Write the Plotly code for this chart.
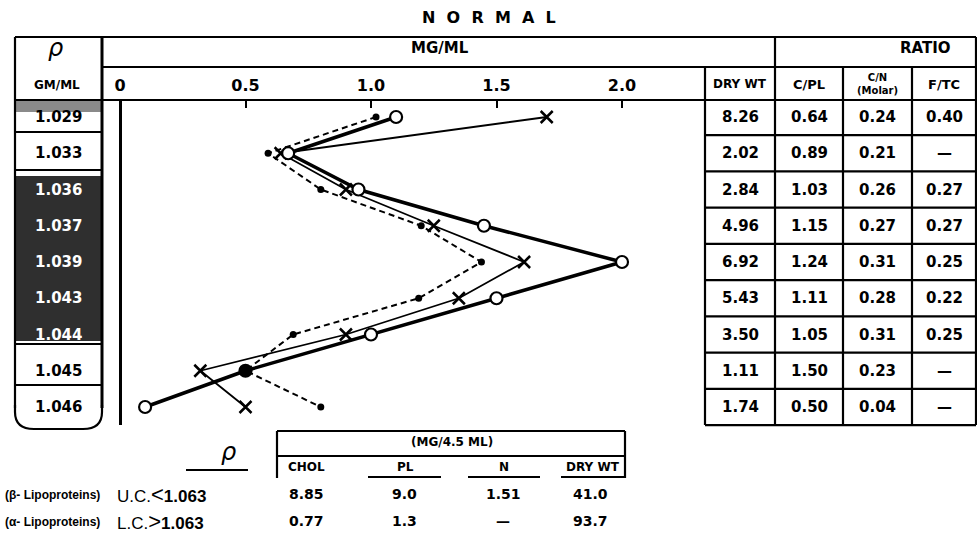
import plotly.graph_objects as go

# ---------------- data ----------------
densities = ["1.029", "1.033", "1.036", "1.037", "1.039", "1.043", "1.044", "1.045", "1.046"]
circle_vals = [1.10, 0.67, 0.95, 1.45, 2.00, 1.50, 1.00, 0.50, 0.10]   # open circles, heavy line
cross_vals = [1.70, 0.64, 0.90, 1.25, 1.61, 1.35, 0.90, 0.32, 0.50]    # crosses, thin line
dot_vals = [1.02, 0.59, 0.80, 1.20, 1.44, 1.19, 0.69, 0.50, 0.80]      # dots, dashed line
dry_wt = ["8.26", "2.02", "2.84", "4.96", "6.92", "5.43", "3.50", "1.11", "1.74"]
c_pl = ["0.64", "0.89", "1.03", "1.15", "1.24", "1.11", "1.05", "1.50", "0.50"]
c_n = ["0.24", "0.21", "0.26", "0.27", "0.31", "0.28", "0.31", "0.23", "0.04"]
f_tc = ["0.40", "—", "0.27", "0.27", "0.25", "0.22", "0.25", "—", "—"]
dark_rows = ["1.036", "1.037", "1.039", "1.043", "1.044"]
x_tickvals = [0, 0.5, 1.0, 1.5, 2.0]
x_ticktext = ["0", "0.5", "1.0", "1.5", "2.0"]
bottom_cols = ["CHOL", "PL", "N", "DRY WT"]
uc_vals = ["8.85", "9.0", "1.51", "41.0"]
lc_vals = ["0.77", "1.3", "—", "93.7"]

# ---------------- layout helpers ----------------
W, H = 977, 537
FONT = "DejaVu Sans"


def px(x):
    return x / W


def py(y):
    return 1 - y / H


fig = go.Figure()

fig.add_trace(go.Scatter(
    x=dot_vals, y=densities, mode="lines+markers",
    line=dict(color="black", width=2, dash="6px,4px"),
    marker=dict(symbol="circle", size=7, color="black"),
    hoverinfo="skip", showlegend=False))
fig.add_trace(go.Scatter(
    x=cross_vals, y=densities, mode="lines+markers",
    line=dict(color="black", width=1.8),
    marker=dict(symbol="x-thin", size=12, line=dict(color="black", width=2.5)),
    hoverinfo="skip", showlegend=False))
circle_fill = ["black" if abs(c - d) < 1e-9 else "white" for c, d in zip(circle_vals, dot_vals)]
fig.add_trace(go.Scatter(
    x=circle_vals, y=densities, mode="lines+markers",
    line=dict(color="black", width=3.5),
    marker=dict(symbol="circle", size=12, color=circle_fill, line=dict(color="black", width=2.2)),
    hoverinfo="skip", showlegend=False))

# plot area geometry: value 0 at px 120, 251 px per unit; rows centred at 117 + 36.25*i
X0, SX = 120, 251
ROW0, RH = 117, 36.25
fig.update_xaxes(
    domain=[px(103), px(705)], range=[(103 - X0) / SX, (705 - X0) / SX],
    side="top", ticks="inside", ticklen=8, tickwidth=2.2, tickcolor="black",
    tickvals=x_tickvals, ticktext=x_ticktext, ticklabelstandoff=5,
    tickfont=dict(family=FONT, size=16, color="black", weight="bold"),
    showgrid=False, showline=False,
    zeroline=True, zerolinecolor="black", zerolinewidth=2.5, fixedrange=True)
fig.update_yaxes(
    domain=[py(425), py(100)], type="category", categoryarray=densities,
    range=[(425 - ROW0) / RH, (100 - ROW0) / RH],
    showticklabels=False, showgrid=False, showline=False, zeroline=False, ticks="")

shapes = []


def hline(y, x0, x1, w=2.2):
    shapes.append(dict(type="line", xref="paper", yref="paper", x0=px(x0), x1=px(x1),
                       y0=py(y), y1=py(y), line=dict(color="black", width=w)))


def vline(x, y0, y1, w=2.2):
    shapes.append(dict(type="line", xref="paper", yref="paper", x0=px(x), x1=px(x),
                       y0=py(y0), y1=py(y1), line=dict(color="black", width=w)))


def rect(x0, y0, x1, y1, fill):
    shapes.append(dict(type="rect", xref="paper", yref="paper", x0=px(x0), x1=px(x1),
                       y0=py(y1), y1=py(y0), fillcolor=fill, line=dict(width=0), layer="below"))


# left column fills
rect(15, 100, 102, 112, "#8a8a8a")
rect(15, 176, 102, 341, "#2f2f2f")

# main frame
hline(37, 15, 976)
hline(67, 102, 976)
hline(100, 15, 976)
vline(15, 37, 408)
vline(102, 37, 408, 3)
vline(705, 67, 425)
vline(775, 37, 425)
vline(843, 67, 425)
vline(912, 67, 425)
vline(976, 37, 425)
for k in range(len(densities)):
    hline(ROW0 + RH * (k + 0.5), 705, 976)
# left column row separators
for yy in [132, 170, 344, 385]:
    hline(yy, 15, 102)
# rounded bottom box for the last density
path = "M {} {} L {} {} Q {} {} {} {} L {} {} Q {} {} {} {} L {} {}".format(
    px(15), py(405), px(15), py(412), px(15), py(429), px(34), py(429),
    px(83), py(429), px(102), py(429), px(102), py(412), px(102), py(405))
shapes.append(dict(type="path", xref="paper", yref="paper", path=path,
                   line=dict(color="black", width=2.2)))

# bottom table lines
hline(470, 186, 248)
hline(431, 277, 625)
hline(456, 277, 625)
vline(277, 431, 478)
vline(625, 431, 478)
hline(477, 368, 441)
hline(477, 468, 540)
hline(477, 561, 625)

ann = []


def text(x, y, s, size, anchor="center", weight="bold", style="normal", color="black", family=FONT, yref="paper"):
    ann.append(dict(x=px(x), y=(py(y) if yref == "paper" else y), xref="paper", yref=yref,
                    text=s, showarrow=False, xanchor=anchor, yanchor="middle",
                    font=dict(family=family, size=size, color=color, weight=weight, style=style)))


text(489, 18, "N\u2002\u2009O\u2002\u2009R\u2002\u2009M\u2002\u2009A\u2002\u2009L", 16)
text(55, 48, "ρ", 24, weight="normal", style="italic")
text(57, 85, "GM/ML", 12)
text(440, 48, "MG/ML", 15)
text(925, 48, "RATIO", 15)
text(740, 84, "DRY WT", 12)
text(809, 84, "C/PL", 13)
text(877, 84, "C/N<br>(Molar)", 10)
text(944, 84, "F/TC", 13)

for i, d in enumerate(densities):
    col = "white" if d in dark_rows else "black"
    text(58, i, d, 15, color=col, yref="y")
    text(740, i, dry_wt[i], 15, yref="y")
    text(809, i, c_pl[i], 15, yref="y")
    text(877, i, c_n[i], 15, yref="y")
    text(944, i, f_tc[i], 15, yref="y")

# bottom table text
text(228, 452, "ρ", 24, weight="normal", style="italic")
text(452, 442, "(MG/4.5 ML)", 12)
for cx, h in zip([306, 405, 504, 593], bottom_cols):
    text(cx, 467, h, 12)
for cx, v in zip([306, 404, 503, 590], uc_vals):
    text(cx, 494, v, 14)
for cx, v in zip([306, 404, 503, 590], lc_vals):
    text(cx, 521, v, 14)
text(3, 495, "(β- Lipoproteins)", 12, anchor="left", family="Liberation Sans")
text(3, 522, "(α- Lipoproteins)", 12, anchor="left", family="Liberation Sans")
text(115, 494, "U.C.<span style='font-size:22px'>&lt;</span><b>1.063</b>", 17, anchor="left",
     weight="normal", family="Liberation Sans")
text(115, 521, "L.C.<span style='font-size:22px'>&gt;</span><b>1.063</b>", 17, anchor="left",
     weight="normal", family="Liberation Sans")

fig.update_layout(
    width=W, height=H, autosize=False,
    margin=dict(l=0, r=0, t=0, b=0),
    paper_bgcolor="white", plot_bgcolor="rgba(0,0,0,0)",
    shapes=shapes, annotations=ann, showlegend=False)

fig.write_html("out.html", config={"displayModeBar": False},
               post_script="document.body.style.margin='0';")
